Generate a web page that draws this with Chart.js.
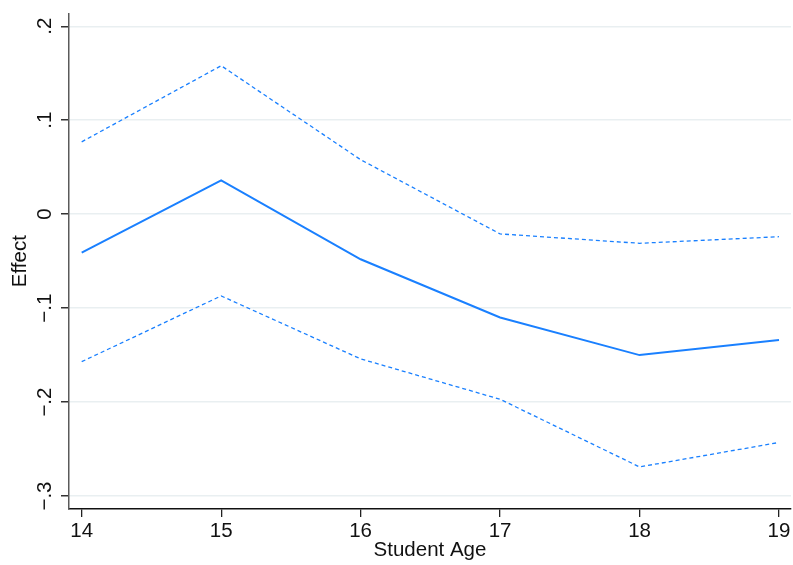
<!DOCTYPE html>
<html>
<head>
<meta charset="utf-8">
<script src="https://cdn.jsdelivr.net/npm/chart.js@4"></script>
<style>
  html, body { margin: 0; padding: 0; background: #ffffff; }
  #wrap { width: 793px; height: 565px; }
</style>
</head>
<body>
<div id="wrap"><canvas id="chart" width="793" height="565"></canvas></div>
<script>
// Estimated effect by student age with upper/lower confidence bounds
const ages = [14, 15, 16, 17, 18, 19];
const effect = [-0.041, 0.036, -0.048, -0.110, -0.150, -0.134];
const upperBound = [0.077, 0.158, 0.058, -0.021, -0.031, -0.024];
const lowerBound = [-0.157, -0.087, -0.154, -0.197, -0.269, -0.243];

const yTickValues = [-0.3, -0.2, -0.1, 0, 0.1, 0.2];
const yTickLabels = ['\u2212.3', '\u2212.2', '\u2212.1', '0', '.1', '.2'];
const xTickValues = [14, 15, 16, 17, 18, 19];

const lineColor = '#1a80ff';
const fontFamily = '"Liberation Sans", Arial, Helvetica, sans-serif';

const toPoints = (ys) => ages.map((a, i) => ({ x: a, y: ys[i] }));

new Chart(document.getElementById('chart'), {
  type: 'line',
  data: {
    datasets: [
      { label: 'Upper bound', data: toPoints(upperBound), borderColor: lineColor,
        borderWidth: 1.3, borderDash: [4, 3], pointRadius: 0, tension: 0, fill: false },
      { label: 'Effect', data: toPoints(effect), borderColor: lineColor,
        borderWidth: 2, pointRadius: 0, tension: 0, fill: false },
      { label: 'Lower bound', data: toPoints(lowerBound), borderColor: lineColor,
        borderWidth: 1.3, borderDash: [4, 3], pointRadius: 0, tension: 0, fill: false }
    ]
  },
  options: {
    responsive: false,
    animation: false,
    layout: { padding: { top: 12, right: 2, left: 0, bottom: 0 } },
    plugins: { legend: { display: false }, tooltip: { enabled: false } },
    scales: {
      x: {
        type: 'linear',
        min: 13.909,
        max: 19.086,
        afterBuildTicks: (scale) => { scale.ticks = xTickValues.map(v => ({ value: v })); },
        afterFit: (scale) => { scale.height = 56; },
        border: { display: true, color: '#111111', width: 1.5 },
        grid: { drawOnChartArea: false, drawTicks: true, tickLength: 8, tickColor: '#222222', lineWidth: 1.3 },
        ticks: {
          autoSkip: false, maxRotation: 0, minRotation: 0, padding: 2,
          color: '#111111', font: { family: fontFamily, size: 20.5 },
          callback: (value) => String(value)
        },
        title: {
          display: true, text: 'Student Age', color: '#111111',
          font: { family: fontFamily, size: 20.5, lineHeight: 1.2 },
          padding: { top: 0, bottom: 2 }
        }
      },
      y: {
        type: 'linear',
        min: -0.3138,
        max: 0.2138,
        afterBuildTicks: (scale) => { scale.ticks = yTickValues.map(v => ({ value: v })); },
        afterFit: (scale) => { scale.width = 69; },
        border: { display: true, color: '#5a5a5a', width: 1.5 },
        grid: { drawOnChartArea: true, color: '#e9eff1', lineWidth: 1.5,
                drawTicks: true, tickLength: 8, tickColor: '#333333' },
        ticks: {
          autoSkip: false, minRotation: 90, maxRotation: 90, crossAlign: 'center', padding: 1,
          color: '#111111', font: { family: fontFamily, size: 20.5 },
          callback: (value, index) => yTickLabels[index]
        },
        title: {
          display: true, text: 'Effect', color: '#111111',
          font: { family: fontFamily, size: 20.5, lineHeight: 1.2 },
          padding: { top: 8, bottom: 0 }
        }
      }
    }
  }
});
</script>
</body>
</html>
